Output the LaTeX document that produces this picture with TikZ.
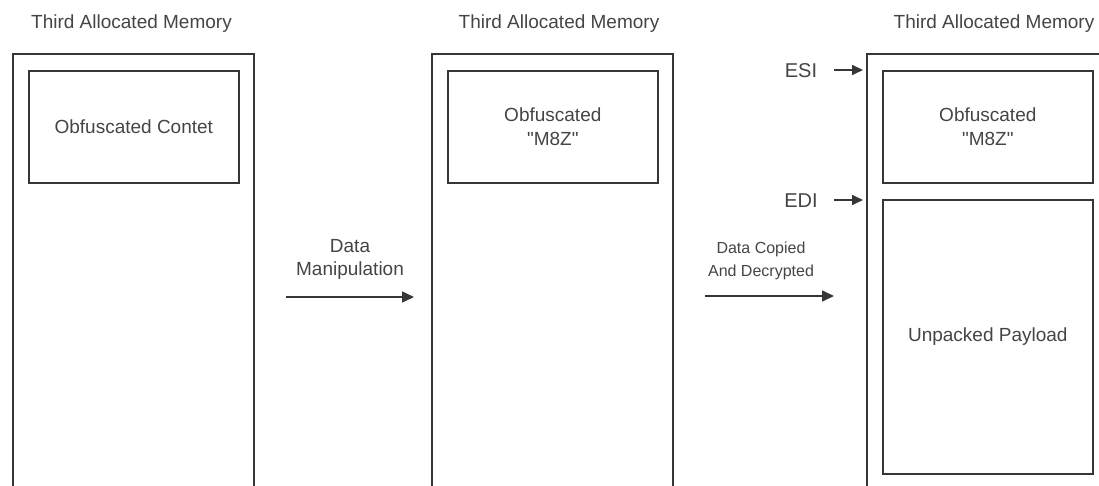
\documentclass[tikz,border=0pt]{standalone}
\usepackage{fontspec}
\setmainfont{Liberation Sans}[Ligatures=TeXOff]
\usetikzlibrary{arrows.meta}
\definecolor{ink}{HTML}{363636}
\definecolor{txt}{HTML}{454545}

\begin{document}
\begin{tikzpicture}[x=1pt,y=-1pt,
  mem/.style={draw=ink,line width=1.6pt,minimum width=241pt,minimum height=460pt,
    anchor=north west,inner sep=0pt},
  cell/.style={draw=ink,line width=1.6pt,anchor=north west,inner sep=0pt,
    minimum width=210pt,align=center,text=txt,font=\fontsize{19}{24}\selectfont},
  title/.style={text=txt,font=\fontsize{19}{24}\selectfont},
  biglbl/.style={text=txt,align=center,font=\fontsize{19}{23}\selectfont},
  smalllbl/.style={text=txt,align=center,font=\fontsize{16}{23}\selectfont},
  reglbl/.style={text=txt,font=\fontsize{20}{24}\selectfont},
  flow/.style={-{Triangle[length=12pt,width=11pt]},draw=ink,line width=1.6pt},
  ptr/.style={-{Triangle[length=11pt,width=10pt]},draw=ink,line width=1.6pt}]

  % canvas; memory columns run past the lower and right edges
  \clip (0,0) rectangle (1099,486);
  \fill[white] (0,0) rectangle (1099,486);

  % column titles
  \node[title] (t1) at (131.5,24) {Third Allocated Memory};
  \node[title] (t2) at (559,24) {Third Allocated Memory};
  \node[title] (t3) at (994,24) {Third Allocated Memory};

  % memory regions
  \node[mem] (mem1) at (12,53) {};
  \node[mem] (mem2) at (431,53) {};
  \node[mem,minimum width=300pt] (mem3) at (866,53) {};

  % contents
  \node[cell,minimum height=112pt] (c1) at (28,70) {Obfuscated Contet};
  \node[cell,minimum height=112pt] (c2) at (447,70) {Obfuscated\\"M8Z"};
  \node[cell,minimum height=112pt] (c3) at (882,70) {Obfuscated\\"M8Z"};
  \node[cell,minimum height=274pt] (c4) at (882,199) {Unpacked Payload};

  % transformation steps
  \coordinate (s1a) at (286,297);
  \coordinate (s1b) at (414,297);
  \draw[flow] (s1a) -- (s1b);
  \node[biglbl] (l1) at (350,259) {Data\\Manipulation};

  \coordinate (s2a) at (705,296);
  \coordinate (s2b) at (834,296);
  \draw[flow] (s2a) -- (s2b);
  \node[smalllbl] (l2) at (761,261) {Data Copied\\And Decrypted};

  % register pointers
  \node[reglbl] (esi) at (801,71) {ESI};
  \node[reglbl] (edi) at (801,201) {EDI};
  \coordinate (esiend) at (863,70);
  \coordinate (ediend) at (863,200);
  \draw[ptr] (834,70) -- (esiend);
  \draw[ptr] (834,200) -- (ediend);
\end{tikzpicture}
\end{document}
